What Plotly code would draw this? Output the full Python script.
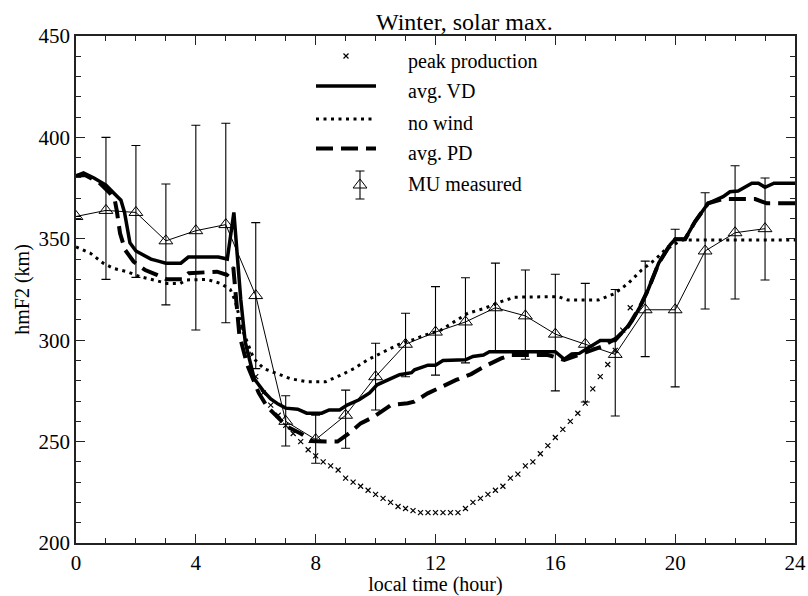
import plotly.graph_objects as go

# ---------------- data ----------------
# peak production (x markers)
PP_T = [5.5, 5.75, 6.0, 6.25, 6.5, 6.75, 7.0, 7.25, 7.5, 7.75, 8.0, 8.25, 8.5, 8.75,
        9.0, 9.25, 9.5, 9.75, 10.0, 10.25, 10.5, 10.75, 11.0, 11.25, 11.5, 11.75,
        12.0, 12.25, 12.5, 12.75, 13.0, 13.25, 13.5, 13.75, 14.0, 14.25, 14.5, 14.75,
        15.0, 15.25, 15.5, 15.75, 16.0, 16.25, 16.5, 16.75, 17.0, 17.25, 17.5, 17.75,
        18.0, 18.25, 18.5]
PP_H = [306, 293, 282, 274, 268, 263, 258, 254, 250, 246, 243, 240, 238, 236,
        232, 230, 228, 226, 224, 222, 220, 218, 217, 216, 215, 215,
        215, 215, 215, 215, 217, 220, 222, 224, 226, 228, 232, 234,
        238, 240, 244, 248, 252, 256, 260, 264, 269, 276, 282, 288,
        295, 305, 316]

# avg. VD (thick solid)
VD_T = [0.0, 0.25, 0.6, 1.0, 1.3, 1.5, 1.62, 1.8, 2.0, 2.25, 2.5, 2.75, 3.0, 3.5, 3.75,
        4.75, 5.05, 5.27, 5.5, 5.65, 5.8, 5.95, 6.25, 6.5, 6.75, 7.0, 7.4, 7.7, 8.2,
        8.45, 8.8, 9.05, 9.45, 9.8, 10.05, 10.4, 10.8, 11.2, 11.3, 11.75, 12.0, 12.25,
        13.0, 13.25, 13.6, 13.8, 16.0, 16.3, 16.55, 16.8, 17.1, 17.5, 18.0, 18.27,
        18.55, 18.83, 19.1, 19.45, 19.83, 20.0, 20.33, 20.66, 21.1, 21.6, 21.83, 22.1,
        22.56, 22.78, 23.0, 23.3, 24.0]
VD_H = [381, 382.5, 380, 376.5, 372, 369, 363, 348, 344, 342, 340, 339, 338, 338, 341,
        341, 340, 363, 320, 299, 289, 281, 275, 271, 268.5, 266.5, 266, 264, 264,
        265.6, 265.6, 268, 270.6, 274, 278, 280.5, 283, 284, 285.4, 287.7, 287.7, 290,
        290.3, 292, 292.7, 294.3, 294.3, 290.6, 293.2, 293.5, 296, 299.8, 299.8, 304.3,
        309.2, 316.6, 325, 338, 347, 349.8, 349.8, 358.4, 367.5, 370.8, 373.2, 373.6,
        377.4, 377.4, 375.4, 377.4, 377.4]

# no wind (dotted)
NW_T = [0.0, 0.47, 0.91, 1.25, 1.7, 2.14, 2.59, 3.03, 3.48, 3.7, 4.37, 4.82, 5.15, 5.3,
        5.6, 5.93, 6.27, 6.72, 7.16, 7.72, 8.33, 8.84, 9.28, 9.73, 10.29, 10.85, 11.29,
        11.51, 12.18, 13.08, 13.63, 14.19, 14.64, 16.09, 16.42, 17.43, 17.98, 18.43,
        18.88, 19.32, 19.66, 20.22, 24.0]
NW_H = [346, 343, 338, 335.4, 333.8, 331.3, 329.7, 328, 328, 329.7, 330, 328, 325, 320,
        303.4, 291, 286, 283.6, 281, 279.5, 279.5, 282.8, 286, 290.3, 294.3, 298.5, 300.4,
        301.8, 305, 313.3, 315.7, 319, 321.2, 321.5, 319.8, 319.8, 323, 328,
        334.6, 339.6, 344.5, 349.4, 349.4]

# avg. PD (thick dashed)
PD_T = [0.0, 0.3, 0.8, 1.14, 1.3, 1.36, 1.47, 1.64, 1.92, 2.31, 2.7, 3.03, 3.54, 3.76,
        4.71, 5.04, 5.25, 5.45, 5.71, 6.1, 6.38, 6.72, 7.05, 7.5, 7.89, 8.33, 8.73, 9.11,
        9.5, 9.95, 10.51, 11.07, 11.29, 11.74, 12.24, 12.69, 13.19, 13.63, 14.19, 14.53,
        15.75, 16.3, 16.87, 17.54, 18.04, 18.43, 18.83, 19.1, 19.45, 19.83, 20.0, 20.33,
        20.66, 21.1, 21.6, 22.67, 23.06, 24.0]
PD_H = [381, 381.5, 377.4, 372.4, 368.6, 364, 352.7, 344.5, 338.8, 334.6, 332.2, 330, 330, 333,
        333.8, 332.2, 336, 303, 288, 274, 267.2, 262.3, 257.3, 254, 250.3, 250, 250, 254,
        259, 262.3, 268, 268.9, 269.7, 273.8, 277.4, 280.4, 283.3, 287, 291, 292.7,
        292.7, 290.3, 293.2, 296.8, 301, 306.7, 316.6, 325, 338, 347, 349.8, 349.8,
        358.4, 367.5, 369.6, 369.6, 367.5, 367.5]

# MU measured (triangles with error bars)
MU_T = list(range(24))
MU_H = [361, 364, 363, 349, 354, 357, 322, 260, 251, 263, 282, 298,
        304, 309, 316, 312, 303, 298, 293, 315, 315, 344, 353, 355]
MU_TOP = [None, 400, 396, 377, 406, 407, 358, 272.6, 263, 275.4, 298.5, 313.3,
          326.4, 330.8, 338, 334.6, 332.5, 328, 325, 339, 354.7, 372.7, 386, 380]
MU_BOT = [None, 330, 331, 317.4, 305, 308.6, 286, 247.8, 239.3, 246.7, 265.6, 282,
          282.8, 288.8, 294.8, 290.6, 275, 269.5, 262.6, 291.9, 277, 315.4, 320.3, 329.7]

X_TICKS = [0, 4, 8, 12, 16, 20, 24]
Y_TICKS = [200, 250, 300, 350, 400, 450]
LEGEND_LABELS = ["peak production", "avg. VD", "no wind", "avg. PD", "MU measured"]
TITLE = "Winter, solar max."
X_TITLE = "local time (hour)"
Y_TITLE = "hmF2 (km)"

# ---------------- styles ----------------
FONT = "Liberation Serif"
BLACK = "#000000"
VD_STYLE = dict(color=BLACK, width=3.5)
NW_STYLE = dict(color=BLACK, width=3, dash="3px,4.5px")
PD_STYLE = dict(color=BLACK, width=4, dash="17px,8px")
MU_LINE = dict(color=BLACK, width=1)
MU_MARKER = dict(symbol="triangle-up-open", size=12, color=BLACK, line=dict(width=1, color=BLACK))
PP_MARKER = dict(symbol="x-thin-open", size=5, color=BLACK, line=dict(width=1.2, color=BLACK))
ERR_STYLE = dict(color=BLACK, thickness=1.1, width=4.5)

W, H = 808, 596
ML, MR, MT, MB = 76, 13, 36, 53
PW, PH = W - ML - MR, H - MT - MB

fig = go.Figure()

fig.add_trace(go.Scatter(x=PP_T, y=PP_H, mode="markers", marker=PP_MARKER, showlegend=False))
fig.add_trace(go.Scatter(x=NW_T, y=NW_H, mode="lines", line=NW_STYLE, showlegend=False))
fig.add_trace(go.Scatter(x=PD_T, y=PD_H, mode="lines", line=PD_STYLE, showlegend=False))
fig.add_trace(go.Scatter(x=VD_T, y=VD_H, mode="lines", line=VD_STYLE, showlegend=False))

err_plus = [None if t is None else t - v for t, v in zip(MU_TOP, MU_H)]
err_minus = [None if b is None else v - b for b, v in zip(MU_BOT, MU_H)]
fig.add_trace(go.Scatter(
    x=MU_T, y=MU_H, mode="lines+markers", line=MU_LINE, marker=MU_MARKER,
    error_y=dict(type="data", symmetric=False, array=err_plus, arrayminus=err_minus, **ERR_STYLE),
    showlegend=False))

# ---------------- custom legend (overlay pixel axes, layout positions) ----------------
LEG_X0, LEG_X1 = 240, 300          # sample line extent (px from plot left)
LEG_TEXT_X = 330
LEG_SAMPLE_Y = [20, 50, 83, 112.5, 149]
LEG_TEXT_Y0, LEG_TEXT_STEP = 25, 30.8
LEG_ERR = 14
mid = (LEG_X0 + LEG_X1) / 2
leg = dict(xaxis="x2", yaxis="y2", showlegend=False, hoverinfo="skip")
fig.add_trace(go.Scatter(x=[mid], y=[LEG_SAMPLE_Y[0]], mode="markers", marker=PP_MARKER, **leg))
fig.add_trace(go.Scatter(x=[LEG_X0, LEG_X1], y=[LEG_SAMPLE_Y[1]] * 2, mode="lines", line=VD_STYLE, **leg))
fig.add_trace(go.Scatter(x=[LEG_X0, LEG_X1], y=[LEG_SAMPLE_Y[2]] * 2, mode="lines", line=NW_STYLE, **leg))
fig.add_trace(go.Scatter(x=[LEG_X0, LEG_X1], y=[LEG_SAMPLE_Y[3]] * 2, mode="lines", line=PD_STYLE, **leg))
fig.add_trace(go.Scatter(x=[mid + 14], y=[LEG_SAMPLE_Y[4]], mode="markers", marker=MU_MARKER,
                         error_y=dict(type="data", array=[LEG_ERR], **ERR_STYLE), **leg))
for i, lab in enumerate(LEGEND_LABELS):
    fig.add_annotation(x=LEG_TEXT_X, y=LEG_TEXT_Y0 + i * LEG_TEXT_STEP, xref="x2", yref="y2", text=lab,
                       showarrow=False, xanchor="left", yanchor="middle",
                       font=dict(family=FONT, size=20, color=BLACK))

fig.add_annotation(x=(464 - ML) / PW, y=1 + 14 / PH, xref="paper", yref="paper", text=TITLE,
                   showarrow=False, xanchor="center", yanchor="middle",
                   font=dict(family=FONT, size=24, color=BLACK))

axis_common = dict(showline=True, linewidth=1.5, linecolor="#222", mirror="ticks",
                   ticks="inside", ticklen=9, tickwidth=1.2, tickcolor="#222",
                   showgrid=False, zeroline=False, automargin=False,
                   tickfont=dict(family=FONT, size=21, color=BLACK))

fig.update_layout(
    width=W, height=H,
    margin=dict(l=ML, r=MR, t=MT, b=MB, pad=0, autoexpand=False),
    paper_bgcolor="white", plot_bgcolor="white",
    showlegend=False,
    xaxis=dict(range=[0, 24], tickvals=X_TICKS, ticktext=[str(v) for v in X_TICKS],
               ticklabelstandoff=0,
               minor=dict(dtick=1, ticklen=5, ticks="inside", tickcolor="#222", tickwidth=1.2),
               title=dict(text=X_TITLE, font=dict(family=FONT, size=20, color=BLACK), standoff=10),
               **axis_common),
    yaxis=dict(range=[200, 450], tickvals=Y_TICKS, ticktext=[str(v) for v in Y_TICKS],
               minor=dict(dtick=10, ticklen=5, ticks="inside", tickcolor="#222", tickwidth=1.2),
               title=dict(text=Y_TITLE, font=dict(family=FONT, size=20, color=BLACK), standoff=4),
               **axis_common),
    xaxis2=dict(range=[0, PW], overlaying="x", visible=False, fixedrange=True),
    yaxis2=dict(range=[PH, 0], overlaying="y", visible=False, fixedrange=True),
)

fig.write_html("out.html")
